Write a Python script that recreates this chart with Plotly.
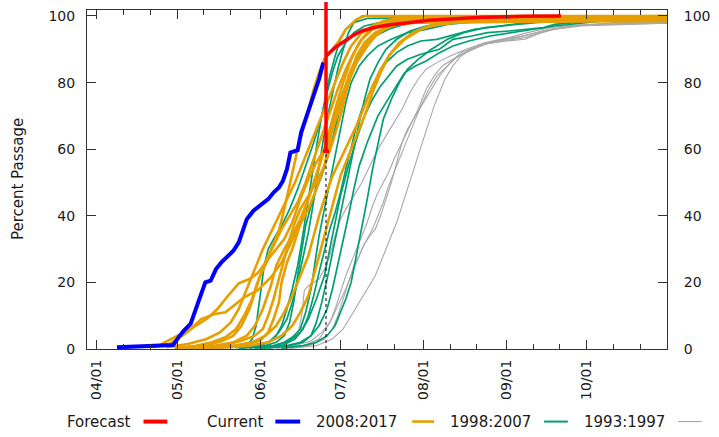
import plotly.graph_objects as go
from datetime import date

# ---------------- data (day-of-year, percent passage) ----------------
MONTH_TICKS = ["04/01", "05/01", "06/01", "07/01", "08/01", "09/01", "10/01"]

current = [(98.5, 0.5), (103, 0.6), (108, 0.7), (113, 0.8), (117, 1.0), (119.5, 1.2),
           (121.5, 3.5), (123.5, 5.5), (126, 7.5), (128, 12), (130, 17), (131.5, 20),
           (133.5, 20.5), (135.5, 24), (137.5, 26), (140, 28), (142, 29.5), (144, 32),
           (145.5, 36), (147, 39), (149.5, 41.5), (152, 43), (155, 45), (157, 47),
           (159, 48.5), (160.5, 50.5), (162, 54), (163.3, 59), (166, 59.7), (167.3, 65),
           (169, 69), (171, 74), (172.8, 77.5), (174, 81), (175.6, 86)]

forecast = [(176.6, 88), (180, 90.5), (183.6, 92.5), (187, 94.3), (190, 95.5), (195, 96.6),
            (200, 97.3), (207, 98.0), (215, 98.7), (225, 99.2), (235, 99.6), (250, 99.9),
            (264.4, 100)]

forecast_day = 176.6
forecast_mid = 88
forecast_low = 59.4
forecast_high = 104.5

years_2008_2017 = {
    2008: [(112, 0.5), (118, 1.5), (123, 4), (127, 6.5), (132, 9), (136, 12), (140, 16), (144, 19.7),
           (148, 21), (151, 22.7), (154, 26), (156, 29.6), (159, 35.5), (161, 42), (163, 49),
           (164.5, 55), (166, 60), (168, 66), (170, 72), (172, 78), (174, 83), (176, 87), (178, 89),
           (181, 92), (184, 96), (188, 99), (191, 100), (304, 100)],
    2009: [(114, 1), (120, 3.6), (126, 6), (130, 9), (135, 10.5), (139, 11), (143, 13.5), (146, 15.5),
           (151, 17.6), (156, 21.5), (160, 26), (163, 31), (166, 36), (170, 42), (173, 48), (176, 55),
           (178, 62), (180, 70), (183, 77), (186, 84), (189, 89), (193, 93), (198, 96), (205, 98),
           (220, 99), (304, 99.4)],
    2010: [(120, 0.3), (128, 1), (134, 2), (139, 3.5), (143, 6), (146, 10), (149, 15), (151, 20),
           (154, 26), (157, 31), (160, 36), (163, 40), (166, 44), (169, 50), (172, 57), (175, 64),
           (178, 71), (181, 78), (184, 84), (187, 89), (190, 93), (194, 96), (200, 98), (210, 99),
           (304, 99.5)],
    2011: [(122, 0.2), (132, 1), (138, 2.5), (142, 4), (145, 7), (148, 12), (150, 17), (152, 22),
           (155, 27), (158, 30), (161, 33), (164, 38), (167, 45), (170, 51), (173, 56), (176, 60),
           (179, 66), (182, 73), (185, 80), (188, 86), (191, 90), (195, 94), (200, 97), (208, 98.5),
           (230, 99), (304, 99)],
    2012: [(125, 0.2), (135, 1), (142, 2), (147, 4), (150, 7), (153, 12), (156, 19), (158, 25),
           (161, 30), (164, 34), (167, 39), (170, 45), (173, 52), (176, 60), (179, 68), (182, 75),
           (185, 81), (188, 86), (192, 91), (196, 95), (202, 97.5), (212, 98.5), (304, 99)],
    2013: [(128, 0.3), (138, 1), (145, 2.5), (150, 4), (153, 6), (155, 10), (157, 15), (159, 21),
           (161, 27), (163, 33), (165, 38), (167, 42), (170, 46), (173, 50), (176, 55), (179, 62),
           (182, 70), (184, 77), (186, 83), (188, 88), (191, 92), (195, 95), (200, 97), (210, 98),
           (304, 98.5)],
    2014: [(130, 0.2), (142, 1), (149, 2), (154, 4), (158, 7), (161, 11), (164, 16), (167, 22),
           (170, 28), (172, 34), (174, 40), (176, 45), (179, 52), (182, 57), (185, 62), (188, 67),
           (191, 73), (194, 79), (197, 84), (201, 89), (206, 93), (212, 96), (220, 98), (235, 99),
           (304, 99.5)],
    2015: [(133, 0.3), (145, 1), (152, 2.5), (155, 5), (157, 9), (159, 14), (160, 20), (162, 26),
           (164, 30), (166, 35), (168, 40), (171, 47), (174, 55), (177, 63), (180, 72), (183, 80),
           (186, 87), (189, 92), (193, 96), (198, 98.5), (205, 99.5), (304, 100)],
    2016: [(135, 0.2), (148, 1), (155, 2), (160, 4), (164, 7), (167, 11), (170, 16), (172, 22),
           (174, 28), (176, 34), (178, 40), (180, 46), (182, 52), (185, 58), (188, 64), (191, 70),
           (194, 77), (197, 83), (200, 88), (204, 92), (209, 95), (215, 97), (225, 98), (240, 98.5),
           (304, 98.8)],
    2017: [(117, 0.5), (125, 1.5), (132, 3), (137, 5), (141, 8), (144, 12), (147, 18), (150, 24),
           (153, 30), (156, 35), (159, 40), (162, 45), (165, 50), (168, 56), (171, 62), (174, 68),
           (177, 74), (180, 80), (183, 86), (186, 91), (190, 95), (195, 97.5), (203, 99), (304, 99.8)],
}

years_1998_2007 = {
    1998: [(144, 0.2), (152, 1), (156, 2.5), (159, 5), (162, 9), (164, 14), (166, 20), (168, 27),
           (170, 35), (171.5, 42), (173, 50), (174.5, 58), (176, 65), (177.5, 71), (179, 77),
           (181, 84), (183, 90), (185, 95), (187, 98), (190, 100), (304, 100)],
    1999: [(143, 0.3), (147, 1), (149, 3), (150.5, 7), (151.5, 13), (152.5, 19), (153.5, 25),
           (155, 30), (157, 33), (160, 37), (163, 42), (166, 48), (169, 55), (172, 62), (175, 70),
           (177, 77), (179, 83), (181, 88), (184, 92), (187, 95), (191, 97), (199, 98.5),
           (215, 99.5), (304, 100)],
    2000: [(148, 0.2), (154, 1), (158, 2), (161, 4), (163, 8), (164.5, 14), (166, 22), (167.5, 30),
           (169, 37), (171, 43), (173, 48), (175, 52), (177, 57), (179, 63), (181, 70), (183, 76),
           (185, 82), (188, 87), (191, 91), (195, 94), (200, 96), (208, 98), (220, 99), (304, 100)],
    2001: [(150, 0.2), (157, 1), (161, 2), (164, 3.5), (167, 6), (169, 11), (171, 18), (172.5, 26),
           (174, 34), (176, 42), (178, 50), (180, 58), (182, 66), (184, 74), (186, 80), (189, 85),
           (192, 88), (196, 91), (201, 93), (207, 95), (214, 96), (222, 97.5), (235, 98.5),
           (250, 99.5), (304, 100)],
    2002: [(150, 0.3), (158, 1), (163, 2.5), (167, 5), (170, 9), (173, 15), (176, 22), (178, 30),
           (180, 38), (182, 46), (185, 55), (188, 63), (191, 70), (194, 75), (197, 79), (200, 82),
           (203, 85), (207, 87), (212, 88.5), (219, 90), (224, 93), (231, 94), (237, 95),
           (245, 95.5), (252, 96), (258, 96.5), (262, 97.5), (275, 98.5), (290, 99.5), (304, 100)],
    2003: [(153, 0.2), (162, 1), (167, 2), (171, 4), (174, 7), (177, 12), (179, 18), (181, 25),
           (183, 32), (185, 40), (187, 48), (189, 55), (192, 62), (196, 70), (199, 74), (202, 78),
           (206, 83), (210, 85), (214, 86.5), (219, 89), (224, 91), (230, 92.5), (238, 94),
           (250, 95.5), (262, 97), (280, 98.5), (304, 99.5)],
    2004: [(160, 0.2), (168, 1), (173, 2), (177, 4), (180, 7), (182, 11), (184, 15), (186, 20),
           (188, 28), (190, 36), (192, 45), (194, 54), (196, 62), (198, 69), (201, 75), (204, 80),
           (207, 84), (211, 87), (216, 90), (222, 93), (228, 95), (236, 96.5), (248, 97.5),
           (262, 98.5), (304, 99.5)],
    2005: [(155, 0.3), (163, 1), (168, 2), (171, 4), (173, 8), (175, 14), (177, 21), (179, 29),
           (181, 37), (183, 45), (185, 53), (187, 61), (189, 68), (191, 75), (193, 81), (196, 86),
           (199, 90), (203, 93), (208, 95.5), (214, 97), (222, 98), (235, 99), (304, 99.8)],
    2006: [(145, 0.2), (151, 0.8), (155, 2), (158, 4), (160, 7), (162, 12), (164, 18), (166, 25),
           (167.5, 32), (169, 40), (170.5, 48), (172, 56), (173.5, 63), (175, 70), (176.5, 76),
           (178, 82), (180, 88), (182, 93), (184, 96), (187, 98), (192, 99.3), (304, 100)],
    2007: [(152, 0.2), (160, 1), (165, 3), (168, 6), (170, 10), (172, 16), (174, 23), (176, 30),
           (178, 36), (180, 41), (182, 47), (184, 54), (186, 61), (188, 67), (190, 72), (193, 77),
           (196, 82), (199, 86), (203, 89), (207, 91), (212, 92.5), (218, 93), (225, 94.5),
           (232, 96), (242, 97), (255, 98.5), (270, 99.5), (304, 100)],
}

years_1993_1997 = {
    1993: [(150, 0.2), (160, 1), (164, 2.5), (166, 4), (167.5, 10), (168.5, 17.6), (170, 19),
           (172, 20), (174, 21), (176, 24), (178, 28), (180, 34), (182, 39), (184, 42), (187, 46),
           (190, 50), (193, 55), (196, 60), (199, 64), (202, 68), (205, 72), (208, 77), (211, 81),
           (214, 84), (218, 86), (223, 88), (229, 90), (236, 92), (245, 93.5), (252, 95),
           (260, 96.5), (270, 97.3), (285, 97.6), (304, 98)],
    1994: [(155, 0.2), (165, 1), (171, 2.5), (175, 5), (178, 8), (180, 12), (182, 17), (184, 22),
           (186, 26), (188, 30), (190, 34), (192, 38), (194, 43), (196, 47), (198, 50), (200, 53),
           (202, 57), (205, 62), (208, 67), (211, 72), (214, 78), (217, 82), (220, 85), (224, 87),
           (229, 89), (236, 91.6), (244, 92.5), (251, 93), (257, 95), (262, 96), (272, 97.3),
           (290, 97.6), (304, 97.8)],
    1995: [(158, 0.2), (168, 1), (174, 3), (178, 7.8), (181, 13), (184, 18), (186, 22), (188, 26),
           (190, 30), (192, 33), (194, 36), (196, 40), (198, 44), (200, 49), (202, 53), (204, 57),
           (206, 61), (208, 65), (210, 69), (212, 73), (215, 78), (218, 82), (222, 85), (226, 88),
           (231, 90), (238, 92), (248, 93.5), (258, 95.5), (268, 97), (285, 98), (304, 98.3)],
    1996: [(160, 0.2), (170, 1), (176, 3), (179, 6), (181, 10), (183, 15), (185, 20), (187, 25),
           (189, 28), (191, 31.6), (193, 34), (195, 36), (197, 40), (199, 45), (201, 50), (203, 56),
           (205, 62), (207, 66), (210, 70), (213, 74), (216, 78), (219, 82), (223, 86), (227, 89),
           (233, 91), (240, 92.5), (250, 94), (260, 96), (275, 97.5), (304, 98)],
    1997: [(163, 0.2), (173, 1), (179, 3), (183, 6), (186, 10), (189, 14), (192, 18), (195, 22),
           (197, 26), (199, 30), (201, 34), (203, 38), (205, 43), (207, 48), (209, 53), (211, 58),
           (213, 63), (215, 68), (217, 73), (219, 77), (221, 81), (224, 85), (227, 88), (231, 90),
           (236, 91.6), (243, 92.5), (251, 93.5), (257, 95), (262, 96), (272, 97), (290, 97.5),
           (304, 97.8)],
}

X_RANGE = [87.3, 304.0]
Y_RANGE = [0, 101.8]
Y_TICKS = [0, 20, 40, 60, 80, 100]

# ---------------- styling ----------------
C_RED, C_BLUE = "#ff0000", "#0000ff"
C_ORANGE, C_GREEN, C_GRAY = "#e69f00", "#009e73", "#a8a8a8"
FONT = "DejaVu Sans"
TXT = "#1a1a1a"
FRAME = "#333333"

W, H = 719, 437
ML, MR, MT, MB = 87, 47, 8, 88


def doy(m, d):
    return (date(2018, m, d) - date(2018, 1, 1)).days + 1


month_starts = [doy(m, 1) for m in range(4, 11)]
minor_vals = [doy(m, 1) + k for m in range(3, 11) for k in (10, 20)
              if X_RANGE[0] <= doy(m, 1) + k <= X_RANGE[1]]


def unzip(pts):
    return [p[0] for p in pts], [p[1] for p in pts]


fig = go.Figure()

for group, color, width in ((years_1993_1997, C_GRAY, 1.1),
                            (years_1998_2007, C_GREEN, 1.7),
                            (years_2008_2017, C_ORANGE, 2.6)):
    for yr, pts in group.items():
        xs, ys = unzip(pts)
        fig.add_trace(go.Scatter(x=xs, y=ys, mode="lines", name=str(yr),
                                 line=dict(color=color, width=width), showlegend=False,
                                 hoverinfo="skip"))

xs, ys = unzip(current)
fig.add_trace(go.Scatter(x=xs, y=ys, mode="lines", line=dict(color=C_BLUE, width=4),
                         showlegend=False))

# dotted line from 0 up to the lower bound of the forecast
fig.add_trace(go.Scatter(x=[forecast_day, forecast_day], y=[0, forecast_low], mode="lines",
                         line=dict(color="#000000", width=1, dash="dot"), showlegend=False))

xs, ys = unzip(forecast)
fig.add_trace(go.Scatter(x=xs, y=ys, mode="lines", line=dict(color=C_RED, width=3.5),
                         showlegend=False))

fig.add_trace(go.Scatter(
    x=[forecast_day], y=[forecast_mid], mode="markers",
    marker=dict(size=1, color=C_RED), cliponaxis=False, showlegend=False,
    error_y=dict(type="data", symmetric=False, array=[forecast_high - forecast_mid],
                 arrayminus=[forecast_mid - forecast_low], color=C_RED, thickness=3.5, width=3)))

axis_common = dict(showgrid=False, zeroline=False, showline=True, linecolor=FRAME, linewidth=1,
                   ticks="inside", tickcolor=FRAME,
                   tickfont=dict(family=FONT, size=14, color=TXT))

fig.update_layout(
    width=W, height=H,
    margin=dict(l=ML, r=MR, t=MT, b=MB),
    paper_bgcolor="white", plot_bgcolor="white",
    showlegend=False,
    xaxis=dict(range=X_RANGE, tickvals=month_starts, ticktext=MONTH_TICKS, tickangle=-90,
               ticklen=9, mirror="ticks", ticklabelstandoff=4,
               minor=dict(tickvals=minor_vals, ticklen=5, ticks="inside", tickcolor=FRAME),
               **axis_common),
    yaxis=dict(range=Y_RANGE, tickvals=Y_TICKS, ticklen=9, mirror=True, ticklabelstandoff=8,
               **axis_common),
    yaxis2=dict(range=Y_RANGE, tickvals=Y_TICKS, ticklen=9, overlaying="y", side="right",
                ticklabelstandoff=13, **axis_common),
)
# invisible trace to activate the right axis
fig.add_trace(go.Scatter(x=[X_RANGE[0]], y=[0], yaxis="y2", mode="markers",
                         marker=dict(size=0, opacity=0), showlegend=False, hoverinfo="skip"))

pw = W - ML - MR
ph = H - MT - MB


def px_x(px):
    return (px - ML) / pw


def px_y(py):
    return (H - MB - py) / ph


# the forecast bar continues above the frame to the top edge
fig.add_shape(type="line", xref="x", yref="paper", x0=forecast_day, x1=forecast_day,
              y0=1.0, y1=1.0 + MT / ph, line=dict(color=C_RED, width=3.5))

fig.add_annotation(text="Percent Passage", xref="paper", yref="paper", x=px_x(17), y=0.5,
                   textangle=-90, showarrow=False, xanchor="center", yanchor="middle",
                   font=dict(family=FONT, size=15, color=TXT))

# gnuplot-style key: label followed by a line sample
legend_items = [("Forecast", C_RED, 4, 133, 144, 168),
                ("Current", C_BLUE, 4, 267, 277, 302),
                ("2008:2017", C_ORANGE, 2.6, 402, 415, 437),
                ("1998:2007", C_GREEN, 2, 537, 548, 572),
                ("1993:1997", C_GRAY, 1.1, 672, 683, 707)]
ky = 422
for label, color, lw, tx, s0, s1 in legend_items:
    fig.add_annotation(text=label, xref="paper", yref="paper", x=px_x(tx), y=px_y(ky),
                       showarrow=False, xanchor="right", yanchor="middle",
                       font=dict(family=FONT, size=15, color=TXT))
    fig.add_shape(type="line", xref="paper", yref="paper", x0=px_x(s0), x1=px_x(s1),
                  y0=px_y(ky), y1=px_y(ky), line=dict(color=color, width=lw))

fig.write_html("out.html", config={"displayModeBar": False},
               post_script="document.body.style.margin='0';document.body.style.overflow='hidden';")
